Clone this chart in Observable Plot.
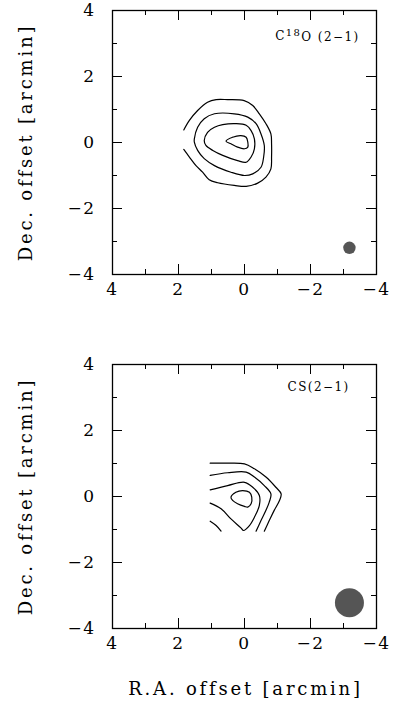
<!DOCTYPE html>
<html><head><meta charset="utf-8">
<script src="https://cdn.jsdelivr.net/npm/d3@7"></script>
<script src="https://cdn.jsdelivr.net/npm/@observablehq/plot@0.6"></script>
<style>
body{margin:0;background:#fff;}
#chart svg{display:block;}
#chart svg text{letter-spacing:1.5px;}
#chart g[font-size="18"] text{letter-spacing:2.8px;}
#chart g[font-size="12"] text{letter-spacing:1.4px;}
</style></head><body><div id="chart"></div>
<script>
// axis ticks (arcmin)
const xTicksMajor = [4, 2, 0, -2, -4];
const xTicksMinor = [3, 1, -1, -3];
const yTicksMajor = [4, 2, 0, -2, -4];
const yTicksMinor = [3, 1, -1, -3];

// C18O (2-1) contours [RA offset, Dec offset]
const c18oLevel1 = [[1.84,0.38],[1.67,0.67],[1.42,0.97],[1.12,1.22],[0.86,1.30],[0.51,1.30],[0.01,1.27],[-0.25,1.12],[-0.45,0.87],[-0.65,0.57],[-0.80,0.26],[-0.82,-0.04],[-0.82,-0.44],[-0.80,-0.80],[-0.65,-1.05],[-0.40,-1.23],[-0.05,-1.33],[0.31,-1.30],[0.81,-1.22],[1.07,-1.13],[1.27,-0.90],[1.47,-0.70],[1.67,-0.44],[1.84,-0.21]];
const c18oLevel2 = [[1.52,0.11],[1.42,0.46],[1.22,0.72],[0.91,0.87],[0.31,0.87],[-0.10,0.77],[-0.35,0.57],[-0.50,0.26],[-0.60,-0.09],[-0.58,-0.44],[-0.50,-0.75],[-0.25,-0.95],[0.00,-1.00],[0.41,-0.90],[0.91,-0.70],[1.22,-0.49],[1.42,-0.24],[1.52,0.01]];
const c18oLevel3 = [[1.22,0.06],[1.12,0.31],[0.91,0.46],[0.66,0.54],[0.26,0.57],[-0.05,0.52],[-0.20,0.36],[-0.30,0.11],[-0.30,-0.19],[-0.20,-0.44],[-0.05,-0.60],[0.21,-0.55],[0.66,-0.39],[0.96,-0.24],[1.17,-0.09]];
const c18oLevel4 = [[0.56,0.04],[0.36,0.16],[0.11,0.21],[-0.05,0.16],[-0.10,0.01],[-0.10,-0.14],[0.00,-0.19],[0.21,-0.14],[0.41,-0.04]];

// CS (2-1) contours
const csLevel1 = [[1.04,1.01],[0.61,1.01],[0.00,0.99],[-0.30,0.84],[-0.65,0.59],[-0.95,0.28],[-1.11,0.08],[-1.06,-0.12],[-0.90,-0.42],[-0.75,-0.73],[-0.60,-1.05]];
const csLevel2 = [[1.04,0.64],[0.51,0.72],[-0.05,0.74],[-0.30,0.59],[-0.60,0.33],[-0.80,0.08],[-0.75,-0.17],[-0.65,-0.42],[-0.50,-0.73],[-0.35,-1.05]];
const csLevel3 = [[1.04,0.20],[0.51,0.33],[0.00,0.43],[-0.25,0.28],[-0.45,0.03],[-0.45,-0.27],[-0.30,-0.63],[-0.15,-0.88],[0.03,-1.03],[0.11,-0.95],[0.41,-0.68],[0.71,-0.37],[1.04,-0.20]];
const csLevel4 = [[0.41,-0.02],[0.26,0.13],[0.06,0.18],[-0.15,0.13],[-0.22,-0.02],[-0.20,-0.22],[-0.10,-0.32],[0.00,-0.30],[0.21,-0.22],[0.36,-0.12]];
const csLevel0 = [[1.04,-0.75],[0.86,-0.88],[0.71,-1.05]];

// beams
const c18oBeam = [[-3.18,-3.19]];
const csBeam = [[-3.18,-3.22]];

const toRows = (list) => list.flatMap((pts, i) => pts.map(([x, y]) => ({id: i, x, y})));

function panel({open, closed, beam, beamR, label, labelDx, labelDy, xTitle, marginBottom}) {
  const marks = [
    Plot.line(toRows(open), {x: "x", y: "y", z: "id", stroke: "black", strokeWidth: 1.2, curve: "catmull-rom"}),
    Plot.line(toRows(closed), {x: "x", y: "y", z: "id", stroke: "black", strokeWidth: 1.2, curve: "catmull-rom-closed"}),
    Plot.dot(beam, {x: d => d[0], y: d => d[1], r: beamR, fill: "#555555", stroke: null}),
    // inward ticks on all sides
    Plot.tickX(xTicksMajor, {x: d => d, insetBottom: 254, stroke: "black"}),
    Plot.tickX(xTicksMinor, {x: d => d, insetBottom: 259, stroke: "black"}),
    Plot.tickX(xTicksMajor, {x: d => d, insetTop: 254, stroke: "black"}),
    Plot.tickX(xTicksMinor, {x: d => d, insetTop: 259, stroke: "black"}),
    Plot.tickY(yTicksMajor, {y: d => d, insetRight: 254, stroke: "black"}),
    Plot.tickY(yTicksMinor, {y: d => d, insetRight: 259, stroke: "black"}),
    Plot.tickY(yTicksMajor, {y: d => d, insetLeft: 254, stroke: "black"}),
    Plot.tickY(yTicksMinor, {y: d => d, insetLeft: 259, stroke: "black"}),
    Plot.axisX(xTicksMajor, {anchor: "bottom", tickSize: 0, tickPadding: 8, label: null}),
    Plot.axisY(yTicksMajor, {anchor: "left", tickSize: 0, tickPadding: 17, label: null}),
    Plot.frame({stroke: "black", strokeWidth: 1.3}),
    Plot.text([label], {frameAnchor: "top-right", textAnchor: "end", lineAnchor: "middle", dx: labelDx, dy: labelDy, fontSize: 12}),
    Plot.text(["Dec. offset [arcmin]"], {frameAnchor: "left", rotate: -90, textAnchor: "middle", lineAnchor: "middle", dx: -86, dy: 0, fontSize: 18})
  ];
  if (xTitle) marks.push(Plot.text([xTitle], {frameAnchor: "bottom", textAnchor: "middle", lineAnchor: "middle", dx: 1, dy: 61, fontSize: 18}));
  return Plot.plot({
    width: 395,
    height: 10 + 264 + marginBottom,
    marginTop: 10,
    marginLeft: 112,
    marginRight: 19,
    marginBottom,
    style: {fontFamily: "DejaVu Serif", fontSize: "17px", color: "black", background: "white"},
    x: {domain: [4, -4], label: null},
    y: {domain: [-4, 4], label: null},
    marks
  });
}

const chart = document.getElementById("chart");
const panelC18O = panel({
  open: [c18oLevel1], closed: [c18oLevel2, c18oLevel3, c18oLevel4],
  beam: c18oBeam, beamR: 6.2, label: "C18O (2−1)", labelDx: -17, labelDy: 26,
  xTitle: null, marginBottom: 80
});
// render the isotope mass number as a real superscript
d3.select(panelC18O).selectAll("text").filter(function() { return this.textContent === "C18O (2−1)"; })
  .each(function() {
    const t = d3.select(this).text("");
    t.append("tspan").text("C");
    t.append("tspan").attr("dy", "-0.42em").attr("font-size", "10px").text("18");
    t.append("tspan").attr("dy", "0.42em").text("O (2−1)");
  });
chart.append(panelC18O);
chart.append(panel({
  open: [csLevel1, csLevel2, csLevel3, csLevel0], closed: [csLevel4],
  beam: csBeam, beamR: 14.5, label: "CS(2−1)", labelDx: -27, labelDy: 23,
  xTitle: "R.A. offset [arcmin]", marginBottom: 81
}));
</script></body></html>
